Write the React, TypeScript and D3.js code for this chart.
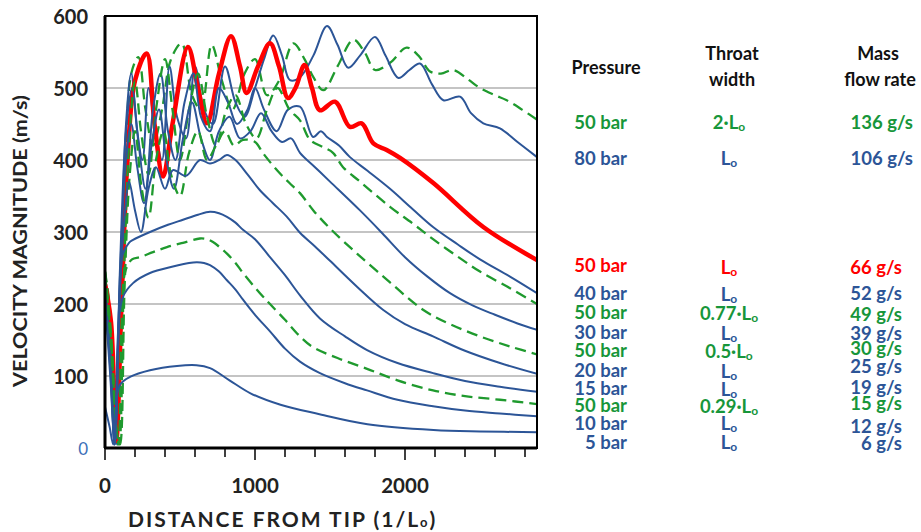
import React from 'react';
import * as d3 from 'd3';

type Pt = [number, number];

// ---------- DATA ----------
const distanceTicks = [0, 200, 400, 600, 800, 1000, 1200, 1400, 1600, 1800, 2000, 2200, 2400, 2600, 2800];
const distanceLabels = [0, 1000, 2000];
const velocityTicks = [0, 100, 200, 300, 400, 500, 600];

const green2Lo: Pt[] = [[0,245],[30,200],[60,90],[85,5],[110,150],[140,400],[175,520],[222,543],[270,470],[320,420],[380,470],[440,540],[511,562],[580,490],[640,470],[711,560],[780,510],[850,470],[930,520],[1000,540],[1080,490],[1160,510],[1256,562],[1330,540],[1389,515],[1456,497],[1550,530],[1656,567],[1730,550],[1800,525],[1900,535],[2011,556],[2090,545],[2167,523],[2240,520],[2322,525],[2420,512],[2500,500],[2600,490],[2678,483],[2780,470],[2880,456]];
const blue80: Pt[] = [[0,240],[30,180],[60,40],[80,5],[110,260],[140,450],[175,520],[215,440],[250,400],[290,500],[330,450],[380,400],[430,530],[480,460],[540,430],[600,530],[660,470],[720,450],[800,530],[870,480],[930,460],[1000,500],[1060,540],[1122,573],[1180,545],[1233,511],[1300,515],[1389,545],[1480,586],[1550,560],[1622,528],[1700,545],[1800,571],[1870,545],[1956,514],[2030,525],[2100,534],[2180,505],[2256,483],[2367,488],[2440,465],[2522,451],[2633,444],[2750,425],[2880,404]];
const red50: Pt[] = [[0,228],[40,175],[75,10],[110,200],[150,400],[200,510],[278,548],[330,450],[387,377],[450,450],[553,557],[620,500],[680,451],[760,520],[840,572],[900,530],[944,493],[1020,530],[1100,562],[1160,530],[1220,486],[1270,500],[1330,532],[1380,500],[1433,469],[1533,481],[1633,446],[1711,451],[1789,423],[1878,414],[1967,403],[2189,368],[2522,307],[2880,261]];
const blue40: Pt[] = [[0,225],[35,140],[65,10],[100,250],[140,440],[180,500],[225,420],[270,360],[320,470],[370,520],[420,440],[470,400],[530,480],[590,520],[640,460],[700,440],[760,500],[820,480],[880,450],[950,470],[1000,500],[1060,470],[1144,440],[1220,470],[1300,474],[1387,432],[1440,440],[1480,432],[1560,420],[1633,404],[1750,385],[1900,360],[2050,332],[2187,307],[2350,283],[2500,262],[2700,238],[2880,215]];
const green077: Pt[] = [[0,245],[40,160],[75,30],[95,5],[125,230],[160,420],[200,510],[240,440],[290,380],[340,470],[400,540],[450,470],[500,400],[560,470],[620,520],[680,460],[740,420],[810,470],[870,490],[940,450],[1010,430],[1080,470],[1150,500],[1230,470],[1300,455],[1367,428],[1453,418],[1520,410],[1587,390],[1700,370],[1900,335],[2050,312],[2187,290],[2350,266],[2500,245],[2700,222],[2880,200]];
const blue30: Pt[] = [[0,220],[35,130],[65,5],[100,240],[140,400],[175,450],[215,390],[260,340],[310,420],[360,470],[410,400],[460,360],[520,430],[580,480],[640,430],[700,400],[760,440],[830,460],[900,430],[970,440],[1040,465],[1110,440],[1180,425],[1240,430],[1300,410],[1400,390],[1500,370],[1700,330],[1850,298],[2000,265],[2150,238],[2300,215],[2450,198],[2600,185],[2750,173],[2880,164]];
const green05: Pt[] = [[0,240],[40,150],[80,20],[100,5],[130,220],[165,380],[200,440],[245,360],[290,320],[340,400],[390,440],[440,380],[500,350],[560,410],[620,440],[680,400],[740,420],[800,440],[860,420],[920,428],[1000,425],[1055,409],[1150,385],[1230,368],[1300,354],[1389,330],[1500,305],[1680,270],[1900,230],[2120,192],[2300,172],[2500,155],[2700,141],[2880,130]];
const blue20: Pt[] = [[0,220],[35,120],[65,5],[100,220],[130,320],[160,370],[200,330],[240,300],[290,360],[340,390],[400,360],[453,386],[540,378],[633,400],[700,395],[760,400],[813,407],[870,400],[950,380],[1033,358],[1120,340],[1213,321],[1300,299],[1400,280],[1500,260],[1680,224],[1853,192],[2000,172],[2187,155],[2400,135],[2633,118],[2880,103]];
const blue15: Pt[] = [[0,215],[35,110],[65,5],[95,200],[120,270],[160,285],[187,289],[300,300],[420,310],[520,317],[620,324],[700,328],[760,326],[813,321],[870,313],[920,303],[1000,290],[1100,265],[1200,240],[1300,212],[1433,180],[1600,155],[1747,136],[1950,118],[2187,104],[2400,93],[2633,85],[2880,78]];
const green029: Pt[] = [[0,245],[40,140],[70,40],[90,5],[110,170],[135,245],[180,262],[233,265],[320,272],[413,279],[520,285],[633,291],[680,290],[720,286],[770,278],[813,270],[870,257],[920,243],[1033,215],[1100,200],[1200,178],[1300,155],[1387,140],[1550,125],[1747,110],[1950,94],[2187,80],[2400,72],[2633,67],[2880,61]];
const blue10: Pt[] = [[0,205],[35,100],[65,5],[90,170],[120,210],[187,229],[300,243],[453,252],[560,257],[613,258],[660,257],[700,254],[760,245],[813,233],[870,220],[920,206],[1000,185],[1100,162],[1200,138],[1300,120],[1433,104],[1600,90],[1747,80],[1950,67],[2187,58],[2400,52],[2633,48],[2880,44]];
const blue5: Pt[] = [[0,57],[30,30],[55,5],[75,60],[100,88],[170,99],[300,108],[480,114],[610,115],[700,111],[830,94],[970,76],[1170,60],[1430,47],[1750,33],[2190,25],[2500,23],[2880,22]];

const pressureLabels = ['50 bar', '80 bar', '50 bar', '40 bar', '50 bar', '30 bar', '50 bar', '20 bar', '15 bar', '50 bar', '10 bar', '5 bar'];
const throatPrefixes = ['2·', '', '', '', '0.77·', '', '0.5·', '', '', '0.29·', '', ''];
const massFlowLabels = ['136 g/s', '106 g/s', '66 g/s', '52 g/s', '49 g/s', '39 g/s', '30 g/s', '25 g/s', '19 g/s', '15 g/s', '12 g/s', '6 g/s'];

// ---------- STYLE / LAYOUT ----------
const BLUE = '#2c5597';
const GREEN = '#1f9a2e';
const RED = '#ff0000';
const TXT_GREEN = '#17963a';
const FONT = 'Lato, "Open Sans", sans-serif';

const rowColors = [TXT_GREEN, BLUE, RED, BLUE, TXT_GREEN, BLUE, TXT_GREEN, BLUE, BLUE, TXT_GREEN, BLUE, BLUE];
const pressureY = [122, 158, 265, 293, 312, 332, 350, 370, 388, 405, 423, 442];
const throatY = [122, 158, 267, 294, 313, 333, 351, 371, 389, 406, 423, 442];
const massY = [122, 158, 267, 293, 314, 333, 348, 366, 387, 403, 426, 443];
const massX = [913, 913, 902, 902, 902, 902, 902, 902, 902, 902, 902, 902];

const seriesList = [
  { data: green2Lo, color: GREEN, width: 2.3, dash: '11,6' },
  { data: blue80, color: BLUE, width: 2, dash: '' },
  { data: red50, color: RED, width: 4.5, dash: '' },
  { data: blue40, color: BLUE, width: 2, dash: '' },
  { data: green077, color: GREEN, width: 2.3, dash: '11,6' },
  { data: blue30, color: BLUE, width: 2, dash: '' },
  { data: green05, color: GREEN, width: 2.3, dash: '11,6' },
  { data: blue20, color: BLUE, width: 2, dash: '' },
  { data: blue15, color: BLUE, width: 2, dash: '' },
  { data: green029, color: GREEN, width: 2.3, dash: '11,6' },
  { data: blue10, color: BLUE, width: 2, dash: '' },
  { data: blue5, color: BLUE, width: 2, dash: '' },
];

const PL = 105, PR = 537, PT = 16, PB = 448;

export default function App() {
  const x = d3.scaleLinear().domain([0, 2880]).range([PL, PR]);
  const y = d3.scaleLinear().domain([0, 600]).range([PB, PT]);
  const line = d3.line<Pt>().x(d => x(d[0])).y(d => y(d[1])).curve(d3.curveCatmullRom.alpha(0.5));

  const Lo = (prefix: string) => (
    <>
      {prefix}L<tspan fontSize="12" dy="4">o</tspan>
    </>
  );

  return (
    <svg width={921} height={532} style={{ position: 'absolute', left: 0, top: 0, background: '#fff' }} fontFamily={FONT}>
      <defs>
        <clipPath id="plotClip">
          <rect x={PL} y={PT} width={PR - PL} height={PB - PT} />
        </clipPath>
      </defs>
      <rect x={0} y={0} width={921} height={532} fill="#fff" />
      {velocityTicks.filter(v => v > 0 && v < 600).map(v => (
        <line key={v} x1={PL} x2={PR} y1={y(v)} y2={y(v)} stroke="#c4c4c4" strokeWidth={2} />
      ))}
      <g clipPath="url(#plotClip)" fill="none" strokeLinejoin="round" strokeLinecap="butt">
        {seriesList.map((s, i) => (
          <path key={i} d={line(s.data) || ''} stroke={s.color} strokeWidth={s.width} strokeDasharray={s.dash || undefined} />
        ))}
      </g>
      <rect x={PL} y={PT} width={PR - PL} height={PB - PT} fill="none" stroke="#000" strokeWidth={2} />
      <line x1={PL} x2={PL} y1={PT} y2={PB} stroke="#000" strokeWidth={3} />
      <line x1={PL} x2={PR} y1={PB} y2={PB} stroke="#000" strokeWidth={3} />
      {distanceTicks.map(t => (
        <line key={t} x1={x(t)} x2={x(t)} y1={PB} y2={PB + (t % 1000 === 0 ? 12 : 9)} stroke="#000" strokeWidth={1.5} />
      ))}
      {distanceLabels.map(t => (
        <text key={t} x={x(t)} y={485} textAnchor="middle" dominantBaseline="central" fontSize={20.5} fontWeight={700} fill="#222">{t}</text>
      ))}
      {velocityTicks.map(v => (
        <text key={v} x={88} y={y(v)} textAnchor="end" dominantBaseline="central" fontSize={v === 0 ? 17 : 20}
          fontWeight={v === 0 ? 400 : 700} fill={v === 0 ? '#3d6fb8' : '#222'}>{v}</text>
      ))}
      <text transform="translate(20,241) rotate(-90)" textAnchor="middle" dominantBaseline="central" fontSize={18.5}
        fontWeight={700} fill="#222" textLength={292} lengthAdjust="spacingAndGlyphs">VELOCITY MAGNITUDE (m/s)</text>
      <text x={128} y={518} textAnchor="start" dominantBaseline="central" fontSize={21} fontWeight={700} fill="#222"
        letterSpacing="2">
        DISTANCE FROM TIP (1/L<tspan fontSize="13" dy="4">o</tspan><tspan dy="-4">)</tspan>
      </text>
      <g fontSize={18} fontWeight={700} fill="#111" textAnchor="middle" dominantBaseline="central">
        <text x={606} y={67}>Pressure</text>
        <text x={732} y={53}>Throat</text>
        <text x={732} y={79}>width</text>
        <text x={878} y={53}>Mass</text>
        <text x={880} y={79}>flow rate</text>
      </g>
      <g fontSize={18.5} fontWeight={700} dominantBaseline="central">
        {pressureLabels.map((p, i) => (
          <text key={'p' + i} x={627} y={pressureY[i]} textAnchor="end" fill={rowColors[i]}>{p}</text>
        ))}
        {throatPrefixes.map((p, i) => (
          <text key={'t' + i} x={729} y={throatY[i]} textAnchor="middle" fill={rowColors[i]}>{Lo(p)}</text>
        ))}
        {massFlowLabels.map((m, i) => (
          <text key={'m' + i} x={massX[i]} y={massY[i]} textAnchor="end" fill={rowColors[i]}>{m}</text>
        ))}
      </g>
    </svg>
  );
}
